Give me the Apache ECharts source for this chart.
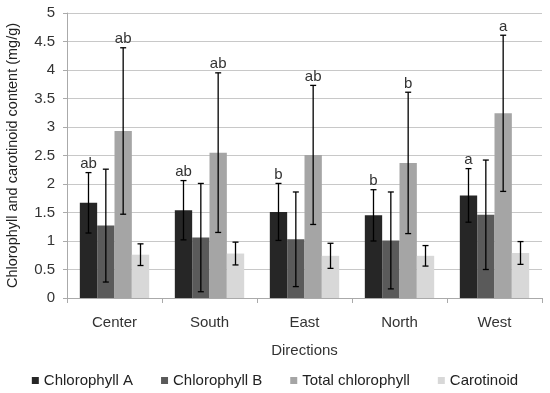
<!DOCTYPE html>
<html><head><meta charset="utf-8">
<script src="https://cdn.jsdelivr.net/npm/echarts@6/dist/echarts.min.js"></script>
<style>html,body{margin:0;padding:0;background:#fff}#c{width:550px;height:393px}</style>
</head><body><div id="c"></div>
<script>
var categories = ['Center','South','East','North','West'];
var seriesNames = ['Chlorophyll A','Chlorophyll B','Total chlorophyll','Carotinoid'];
var chlA = [1.67, 1.54, 1.51, 1.45, 1.80];
var chlB = [1.27, 1.06, 1.03, 1.01, 1.46];
var totalChl = [2.93, 2.55, 2.51, 2.37, 3.24];
var carot = [0.76, 0.78, 0.74, 0.74, 0.79];
var chlAErr = [0.53, 0.52, 0.50, 0.45, 0.47];
var chlBErr = [0.99, 0.95, 0.83, 0.85, 0.96];
var totalErr = [1.46, 1.40, 1.22, 1.24, 1.37];
var carotErr = [0.19, 0.20, 0.22, 0.18, 0.20];
var chlALetters = ['ab','ab','b','b','a'];
var totalLetters = ['ab','ab','ab','b','a'];
var yTicks = ['0','0.5','1','1.5','2','2.5','3','3.5','4','4.5','5'];

var colors = ['#262626','#5a5a5a','#a5a5a5','#d8d8d8'];
var values = [chlA, chlB, totalChl, carot];
var errs = [chlAErr, chlBErr, totalErr, carotErr];
var letters = [chlALetters, null, totalLetters, null];
var GAP = 0.27;
var font = 'Liberation Sans, Arial, sans-serif';

var series = [];
seriesNames.forEach(function(n, i){
  series.push({name:n, type:'bar', data: values[i], itemStyle:{color:colors[i]},
    barGap:'0%', barCategoryGap: (GAP*100)+'%', z:2});
});
seriesNames.forEach(function(n, i){
  var data = categories.map(function(c, k){ return [k, values[i][k], errs[i][k], letters[i] ? letters[i][k] : '']; });
  series.push({type:'custom', name:n+' err', data:data, z:5, silent:true,
    encode:{x:0, y:[1]},
    renderItem: function(params, api){
      var k = api.value(0), v = api.value(1), e = api.value(2);
      var lab = data[params.dataIndex][3];
      var band = api.size([1,0])[0];
      var bw = band*(1-GAP)/4;
      var c = api.coord([k, v]);
      var x = c[0] - 2*bw + (i+0.5)*bw;
      var top = api.coord([k, v+e])[1];
      var bot = api.coord([k, v-e])[1];
      var cap = 3;
      var st = {stroke:'#000', lineWidth:1.3};
      var ch = [
        {type:'line', shape:{x1:x,y1:top,x2:x,y2:bot}, style:st},
        {type:'line', shape:{x1:x-cap,y1:top,x2:x+cap,y2:top}, style:st},
        {type:'line', shape:{x1:x-cap,y1:bot,x2:x+cap,y2:bot}, style:st}
      ];
      if (lab) ch.push({type:'text', style:{text:lab, x:x, y:top-1, align:'center', verticalAlign:'bottom', fill:'#333', font:'15px '+font}});
      return {type:'group', children:ch};
    }
  });
});

var chart = echarts.init(document.getElementById('c'));
chart.setOption({
  animation:false,
  textStyle:{fontFamily:font},
  grid:{left:67, right:8, top:13, bottom:95, containLabel:false, outerBoundsMode:'none'},
  legend:{data:seriesNames, bottom:0, left:'center', icon:'rect', itemWidth:7, itemHeight:7, itemGap:28,
    textStyle:{fontSize:15, color:'#222', fontFamily:font}},
  xAxis:{type:'category', data:categories, name:'Directions', nameLocation:'middle', nameGap:45,
    nameTextStyle:{fontSize:15, color:'#333', fontFamily:font},
    axisLine:{lineStyle:{color:'#aaa'}}, axisTick:{show:true, length:5, lineStyle:{color:'#aaa'}},
    axisLabel:{fontSize:15, color:'#333', margin:17, fontFamily:font}},
  yAxis:{type:'value', min:0, max:5, interval:0.5, name:'Chlorophyll and carotinoid content (mg/g)',
    nameLocation:'middle', nameGap:47, nameTextStyle:{fontSize:14.5, color:'#222', fontFamily:font},
    axisLine:{show:true, lineStyle:{color:'#aaa'}}, axisTick:{show:true, length:4, lineStyle:{color:'#aaa'}},
    axisLabel:{fontSize:15, color:'#333', margin:12, fontFamily:font, formatter:function(v){ var i=Math.round(v*2); return yTicks[i]; }},
    splitLine:{lineStyle:{color:'#c8c8c8', width:1}}},
  series: series
});
</script></body></html>
